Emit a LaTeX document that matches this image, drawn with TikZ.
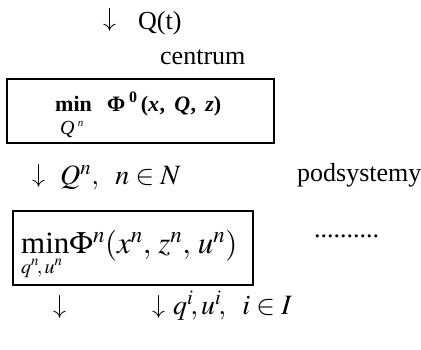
\documentclass[tikz,border=0pt]{standalone}
\usepackage{mathptmx}
\usepackage{fontspec}
\setmainfont{Liberation Serif}
\begin{document}
\begin{tikzpicture}[x=1pt,y=-1pt,
  lbl/.style={anchor=base west,inner sep=0pt,font=\fontsize{26}{30}\selectfont},
  bigl/.style={anchor=base west,inner sep=0pt,font=\fontsize{31}{35}\selectfont},
  boxl/.style={anchor=base west,inner sep=0pt,font=\fontsize{22}{26}\selectfont\bfseries},
  subl/.style={anchor=base west,inner sep=0pt,font=\fontsize{20}{24}\selectfont},
  frame/.style={draw,line width=1.6pt}]
\useasboundingbox (0,0) rectangle (421,350);
% top
\node[lbl] (a0) at (103,27) {$\downarrow$};
\node[lbl] (qt) at (138,30) {Q(t)};
\node[lbl] (centrum) at (160,65) {centrum};
% centre box
\draw[frame] (7,79) rectangle (274,143);
\node[boxl] (min0) at (55,112) {min};
\node[boxl] (phi0) at (107,112) {Φ\,\raisebox{0.45em}{\fontsize{16}{18}\selectfont 0}\,(\textit{x}\kern0.5pt,\, \textit{Q}\kern0.5pt,\, \textit{z})};
\node[subl] (qn0) at (60,135) {\textit{Q}\,\raisebox{0.4em}{\fontsize{11}{12}\selectfont\itshape n}};
% second line
\node[lbl] (a1) at (32,183) {$\downarrow$};
\node[lbl,font=\fontsize{28}{32}\selectfont] (qn) at (60,185) {$Q^n,\;\ n\in N$};
\node[lbl] (pods) at (297,182) {podsystemy};
% subsystem box
\draw[frame] (13,211) rectangle (253,285);
\node[bigl] (minn) at (21,254) {min$\Phi^n(x^n,\,z^n,\,u^n)$};
\node[subl] (qnun) at (21,273) {$q^n\!,u^n$};
\node[lbl] (dots) at (314,238) {..........};
% bottom
\node[lbl] (a2) at (53,313) {$\downarrow$};
\node[lbl] (a3) at (152,313) {$\downarrow$};
\node[lbl,font=\fontsize{28}{32}\selectfont] (qiui) at (173,315) {$q^i\!,u^i\!,\ \;i\in I$};
\end{tikzpicture}
\end{document}
